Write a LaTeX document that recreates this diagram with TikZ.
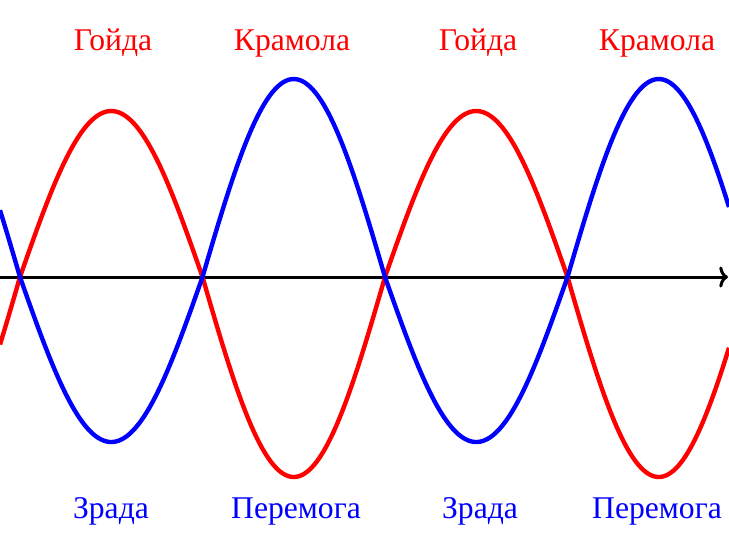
\documentclass[tikz,border=0pt]{standalone}
\usepackage{fontspec}
\setmainfont{Liberation Serif}
\usetikzlibrary{arrows.meta}

\begin{document}
\begin{tikzpicture}[
        x=0.02cm, y=-0.02cm,
        declare function={ph(\t)=sin((\t-20)/365*360);
            wred(\t)=277-(ph(\t)>0?166:200)*ph(\t);
            wblue(\t)=277+(ph(\t)>0?165:198)*ph(\t);},
        wave/.style={line width=2.5pt, line join=round},
        axisline/.style={line width=1.7pt, -{To[length=5pt, width=12pt]}},
        lbl/.style={anchor=base, font=\fontsize{18}{21}\selectfont}
    ]

    % Frame
    \useasboundingbox (0,0) rectangle (729,556);
    \clip (0,0) rectangle (729,556);

    % Axis
    \coordinate (axisstart) at (0,277);
    \coordinate (axisend) at (728,277);
    \draw[axisline] (axisstart) -- (axisend);

    % Waves
    \draw[wave, red] plot[domain=0:729, samples=300, smooth] (\x, {wred(\x)});
    \draw[wave, blue] plot[domain=0:729, samples=300, smooth] (\x, {wblue(\x)});

    % Labels - positioned with coordinates
    \node[lbl, red] (goida1) at (113,50) {Гойда};
    \node[lbl, red] (kramola1) at (292,50) {Крамола};
    \node[lbl, red] (goida2) at (478,50) {Гойда};
    \node[lbl, red] (kramola2) at (657,50) {Крамола};
    \node[lbl, blue] (zrada1) at (111,518) {Зрада};
    \node[lbl, blue] (peremoga1) at (296,518) {Перемога};
    \node[lbl, blue] (zrada2) at (480,518) {Зрада};
    \node[lbl, blue] (peremoga2) at (657,518) {Перемога};

\end{tikzpicture}
\end{document}
